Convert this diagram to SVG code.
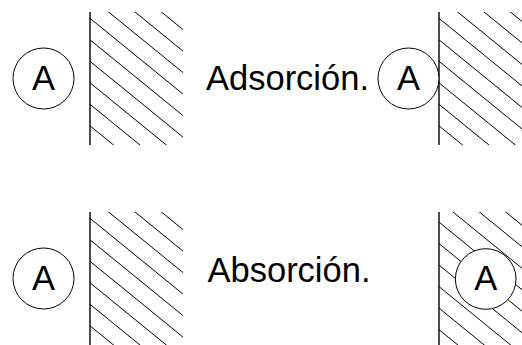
<svg xmlns="http://www.w3.org/2000/svg" xmlns:xlink="http://www.w3.org/1999/xlink" width="522" height="345" viewBox="0 0 522 345">
  <style>
    .wall { stroke: #000; stroke-width: 1.4; fill: none; }
    .hatch line { stroke: #000; stroke-width: 1; }
    .particle { fill: #fff; stroke: #000; stroke-width: 1; }
    .letter { font-family: "Liberation Sans", Arial, sans-serif; font-size: 34.5px; fill: #000; text-anchor: middle; }
    .label { font-family: "Liberation Sans", Arial, sans-serif; font-size: 34.5px; fill: #000; }
  </style>
  <defs>
    <!-- solid surface: diagonal hatch, origin at the top of the wall -->
    <clipPath id="surface">
      <rect x="0" y="0" width="93" height="133"/>
    </clipPath>
    <g id="hatchLines" class="hatch">
      <line x1="0" y1="-58.2" x2="120" y2="39.6"/>
      <line x1="0" y1="-36.7" x2="120" y2="61.1"/>
      <line x1="0" y1="-15.2" x2="120" y2="82.6"/>
      <line x1="0" y1="6.3" x2="120" y2="104.1"/>
      <line x1="0" y1="27.8" x2="120" y2="125.6"/>
      <line x1="0" y1="49.3" x2="120" y2="147.1"/>
      <line x1="0" y1="70.8" x2="120" y2="168.6"/>
      <line x1="0" y1="92.3" x2="120" y2="190.1"/>
      <line x1="0" y1="113.8" x2="120" y2="211.6"/>
    </g>
  </defs>

  <!-- adsorption, before: particle away from the surface -->
  <g id="surface-adsorcion-1">
    <g transform="translate(90,12)" clip-path="url(#surface)">
      <use xlink:href="#hatchLines"/>
    </g>
    <line class="wall" x1="90" y1="12" x2="90" y2="145"/>
  </g>
  <g id="particle-adsorcion-1">
    <circle class="particle" cx="43.5" cy="78.5" r="30.5"/>
    <text class="letter" x="43.5" y="89.5">A</text>
  </g>

  <g id="label-adsorcion">
    <text class="label" x="206" y="89.5">Adsorción.</text>
  </g>

  <!-- adsorption, after: particle held on the surface -->
  <g id="surface-adsorcion-2">
    <g transform="translate(439,12)" clip-path="url(#surface)">
      <use xlink:href="#hatchLines"/>
    </g>
    <line class="wall" x1="439" y1="12" x2="439" y2="145"/>
  </g>
  <g id="particle-adsorcion-2">
    <circle class="particle" cx="408.5" cy="78.5" r="30.5"/>
    <text class="letter" x="408.5" y="89.5">A</text>
  </g>

  <!-- absorption, before -->
  <g id="surface-absorcion-1">
    <g transform="translate(90,212)" clip-path="url(#surface)">
      <use xlink:href="#hatchLines"/>
    </g>
    <line class="wall" x1="90" y1="212" x2="90" y2="345"/>
  </g>
  <g id="particle-absorcion-1">
    <circle class="particle" cx="43.5" cy="278.5" r="30.5"/>
    <text class="letter" x="43.5" y="289.5">A</text>
  </g>

  <g id="label-absorcion">
    <text class="label" x="207.5" y="281.7">Absorción.</text>
  </g>

  <!-- absorption, after: particle taken into the bulk -->
  <g id="surface-absorcion-2">
    <g transform="translate(439,212)" clip-path="url(#surface)">
      <use xlink:href="#hatchLines" y="3.8"/>
    </g>
    <line class="wall" x1="439" y1="212" x2="439" y2="345"/>
  </g>
  <g id="particle-absorcion-2">
    <circle class="particle" cx="485.7" cy="279" r="30.3"/>
    <text class="letter" x="485.7" y="289.5">A</text>
  </g>
</svg>
